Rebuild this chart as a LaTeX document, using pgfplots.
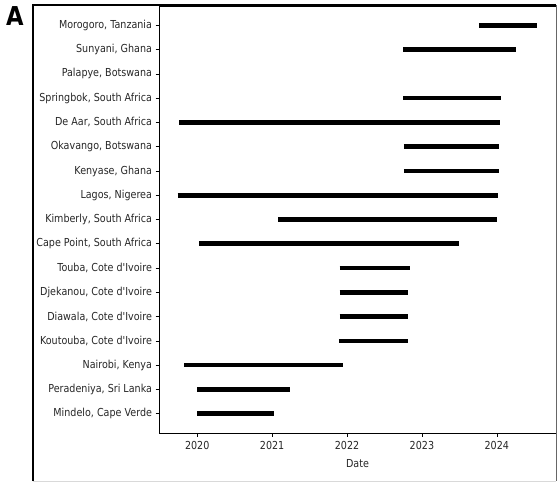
\documentclass[border=0pt]{standalone}
\usepackage{fontspec}
\setmainfont{DejaVu Sans}[FakeStretch=0.87, Ligatures=TeXOff]
\usepackage{pgfplots}
\pgfplotsset{compat=1.18}
\pgfplotsset{seg/.style={black, line width=4.6pt, line cap=butt, mark=none, solid}}
\begin{document}
\begin{tikzpicture}[x=1pt,y=1pt]
\useasboundingbox (-159,-49) rectangle (400,433);
\begin{axis}[
  at={(0,0)}, anchor=south west,
  scale only axis, width=397pt, height=427pt,
  xmin=2019.49, xmax=2024.79,
  ymin=-0.8, ymax=16.8,
  xtick={2020,2021,2022,2023,2024},
  ytick={0,...,16},
  yticklabels={{Mindelo, Cape Verde},{Peradeniya, Sri Lanka},{Nairobi, Kenya},{Koutouba, Cote d'Ivoire},{Diawala, Cote d'Ivoire},{Djekanou, Cote d'Ivoire},{Touba, Cote d'Ivoire},{Cape Point, South Africa},{Kimberly, South Africa},{Lagos, Nigerea},{Kenyase, Ghana},{Okavango, Botswana},{De Aar, South Africa},{Springbok, South Africa},{Palapye, Botswana},{Sunyani, Ghana},{Morogoro, Tanzania}},
  xticklabel style={/pgf/number format/1000 sep={}, yshift=-1pt},
  /pgf/number format/assume math mode=true,
  tick align=outside, major tick length=3.5pt,
  tick style={black, line width=0.6pt},
  axis line style={line width=0.8pt},
  ticklabel style={font=\fontsize{11}{13}\selectfont, text=black!85},
  xlabel={Date}, xlabel style={font=\fontsize{11}{13}\selectfont, text=black!85, yshift=-3pt},
  xtick pos=bottom, ytick pos=left,
  clip=false,
]
\addplot[seg] coordinates {(2023.76,16) (2024.54,16)};
\addplot[seg] coordinates {(2022.75,15) (2024.25,15)};
\addplot[seg] coordinates {(2022.75,13) (2024.05,13)};
\addplot[seg] coordinates {(2019.76,12) (2024.04,12)};
\addplot[seg] coordinates {(2022.76,11) (2024.03,11)};
\addplot[seg] coordinates {(2022.76,10) (2024.03,10)};
\addplot[seg] coordinates {(2019.74,9) (2024.01,9)};
\addplot[seg] coordinates {(2021.08,8) (2024.00,8)};
\addplot[seg] coordinates {(2020.03,7) (2023.49,7)};
\addplot[seg] coordinates {(2021.90,6) (2022.84,6)};
\addplot[seg] coordinates {(2021.90,5) (2022.82,5)};
\addplot[seg] coordinates {(2021.90,4) (2022.82,4)};
\addplot[seg] coordinates {(2021.89,3) (2022.81,3)};
\addplot[seg] coordinates {(2019.83,2) (2021.95,2)};
\addplot[seg] coordinates {(2020.00,1) (2021.24,1)};
\addplot[seg] coordinates {(2020.00,0) (2021.02,0)};
\end{axis}
\draw[black, line width=1.4pt] (-126,-48) -- (-126,428) -- (397,428);
\draw[black!15, line width=1pt] (-126,-48) -- (397,-48);
\draw[black!60, line width=0.8pt] (397,428) -- (397,-48);
\node[font=\fontsize{26}{28}\bfseries\selectfont] at (-144,417) {A};
\end{tikzpicture}
\end{document}
